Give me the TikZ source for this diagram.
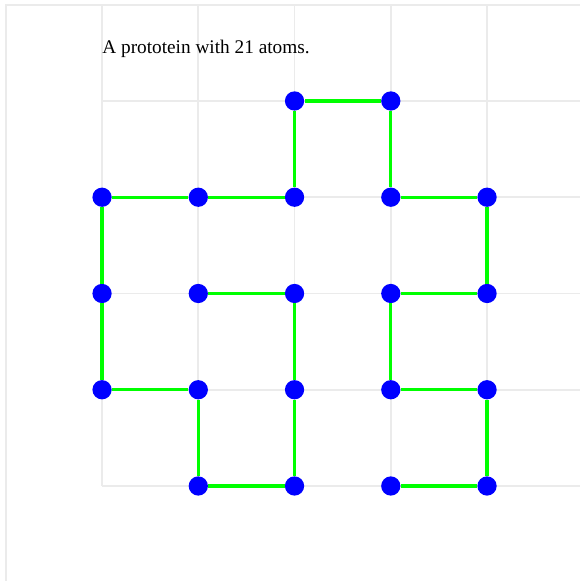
\documentclass[tikz,border=0pt]{standalone}
\usepackage{fontspec}
\setmainfont{Liberation Serif}
\usetikzlibrary{positioning}
\definecolor{gridgray}{RGB}{235,235,235}
\definecolor{bondgreen}{RGB}{0,255,0}
\definecolor{atomblue}{RGB}{0,0,255}

\begin{document}
\begin{tikzpicture}[x=2cm, y=2cm,
    atom/.style={circle, fill=atomblue, inner sep=0pt, minimum size=0.40cm},
    bond/.style={bondgreen, line width=1.9pt},
    gridline/.style={gridgray, line width=1pt}]
  \useasboundingbox (-1.06,-0.987) rectangle (4.966,5.049);

  % Frame and lattice
  \draw[gridline] (-1,-0.987) -- (-1,5) -- (4.966,5);
  \foreach \i in {0,...,4} \draw[gridline] (\i,0) -- (\i,5);
  \foreach \j in {0,...,4} \draw[gridline] (0,\j) -- (4.966,\j);

  % Title
  \node[anchor=base west, inner sep=0pt, font=\fontsize{11.4}{13}\selectfont] (title) at (0,4.49)
    {A prototein with 21 atoms.};

  % Atoms along the chain
  \foreach \n/\p in {1/{3,0}, 2/{4,0}, 3/{4,1}, 4/{3,1}, 5/{3,2}, 6/{4,2}, 7/{4,3},
                     8/{3,3}, 9/{3,4}, 10/{2,4}, 11/{2,3}, 12/{1,3}, 13/{0,3}, 14/{0,2},
                     15/{0,1}, 16/{1,1}, 17/{1,0}, 18/{2,0}, 19/{2,1}, 20/{2,2}, 21/{1,2}}
    \node[atom] (a\n) at (\p) {};

  % Bonds
  \foreach \n [evaluate=\n as \m using int(\n+1)] in {1,...,20}
    \draw[bond] (a\n) -- (a\m);
\end{tikzpicture}
\end{document}
